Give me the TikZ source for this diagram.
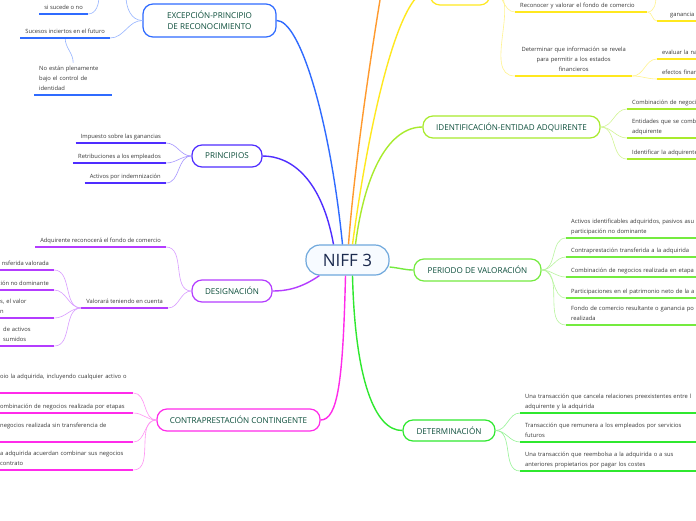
\documentclass[tikz,border=0pt]{standalone}
\usepackage{fontspec}
\setmainfont{Open Sans}
\definecolor{cexc}{HTML}{2F6BFF}
\definecolor{cprin}{HTML}{4F2DFF}
\definecolor{cdes}{HTML}{B43CFF}
\definecolor{ccon}{HTML}{FF2BEA}
\definecolor{cyel}{HTML}{FFE81F}
\definecolor{cora}{HTML}{FF9A2E}
\definecolor{cidn}{HTML}{A8EB2D}
\definecolor{cper}{HTML}{74EB3F}
\definecolor{cdet}{HTML}{2FE82F}
\definecolor{cniff}{HTML}{6FA8DC}
\definecolor{cnifffill}{HTML}{F7FBFF}
\definecolor{niftxt}{HTML}{1B2A4E}
\definecolor{toptxt}{HTML}{0B4D3A}
\definecolor{leaftxt}{HTML}{383838}
\tikzset{
  central/.style={draw=cniff, fill=cnifffill, line width=1.2pt, rounded corners=14pt,
    minimum width=83pt, minimum height=30pt, text=niftxt, font=\fontsize{17}{19}\selectfont},
  topic/.style={draw=#1, fill=white, line width=1.2pt, rounded corners=10pt, text=toptxt,
    font=\fontsize{8.1}{11}\selectfont, align=center, inner sep=1pt},
  leaf/.style={inner xsep=5pt, inner ysep=3.3pt, text=leaftxt,
    font=\fontsize{5.8}{9.6}\selectfont,
    execute at end node={\rule[-1.5pt]{0pt}{1pt}}},
  ul/.style={line width=1.8pt, draw=#1},
  lc/.style={line width=0.6pt, draw=#1!50},
  br/.style={line width=1.4pt, draw=#1},
}
\begin{document}
\begin{tikzpicture}[x=1pt,y=-1pt]
\useasboundingbox (0,0) rectangle (696,520);
\clip (0,0) rectangle (696,520);
\fill[white] (0,0) rectangle (696,520);

% central and topics
\node[central] (niff) at (347.5,260) {NIFF 3};
\node[topic=cexc, minimum width=133pt, minimum height=33pt] (exc) at (209.5,20.5) {EXCEPCIÓN-PRINCIPIO\\DE RECONOCIMIENTO};
\node[topic=cprin, minimum width=70pt, minimum height=22pt] (prin) at (227,156) {PRINCIPIOS};
\node[topic=cdes, minimum width=80pt, minimum height=22pt] (des) at (232,291) {DESIGNACIÓN};
\node[topic=ccon, minimum width=163pt, minimum height=22pt] (con) at (238.5,420) {CONTRAPRESTACIÓN CONTINGENTE};
\node[topic=cyel, minimum width=60pt, minimum height=30pt] (ytop) at (460,-10) {};
\node[topic=cidn, minimum width=177pt, minimum height=22pt] (idn) at (511.5,127) {IDENTIFICACIÓN-ENTIDAD ADQUIRENTE};
\node[topic=cper, minimum width=127pt, minimum height=22pt] (per) at (477.5,270) {PERIODO DE VALORACIÓN};
\node[topic=cdet, minimum width=92pt, minimum height=21pt] (det) at (449,430.5) {DETERMINACIÓN};
\coordinate (otop) at (381,-6);

% main branches
\draw[br=cexc] ([xshift=-5pt]niff.north) .. controls (330,120) and (300,20) .. (exc.east);
\draw[br=cprin] ([xshift=-14pt]niff.north) .. controls (322,180) and (292,156) .. (prin.east);
\draw[br=cora] ([xshift=1pt]niff.north) .. controls (354,170) and (370,60) .. (otop);
\draw[br=cyel] ([xshift=5pt]niff.north) .. controls (365,150) and (395,-10) .. (ytop.west);
\draw[br=cidn] ([xshift=8pt]niff.north) .. controls (365,170) and (390,127) .. (idn.west);
\draw[br=cper] ([yshift=-7pt]niff.east) .. controls (400,268) and (405,270) .. (per.west);
\draw[br=cdet] ([xshift=5pt]niff.south) .. controls (355,380) and (375,431) .. (det.west);
\draw[br=ccon] ([xshift=-2pt]niff.south) .. controls (343,380) and (338,420) .. (con.east);
\draw[br=cdes] ([xshift=14pt]niff.south west) .. controls (300,289) and (285,291) .. (des.east);

% EXCEPCION leaves
\node[leaf, anchor=south east] (sisu) at (88,14) {si sucede o no};
\node[leaf, anchor=south east] (suc) at (110,38) {Sucesos inciertos en el futuro};
\node[leaf, anchor=south west, text width=68pt, align=left] (nos) at (34,95) {No están plenamente\\bajo el control de\\identidad};
\coordinate (ta) at (126,-4);
\coordinate (tb) at (99,-4);
\draw[lc=cexc] (exc.west) to[out=180,in=-90] (ta);
\draw[lc=cexc] (sisu.south east) to[out=0,in=-90] (tb);
\draw[lc=cexc] (exc.west) to[out=180,in=0] (suc.south east);
\draw[lc=cexc] ([xshift=45pt]suc.south west) to[out=-90,in=90] (nos.north);

% PRINCIPIOS leaves
\node[leaf, anchor=south east] (imp) at (166,143) {Impuesto sobre las ganancias};
\node[leaf, anchor=south east] (ret) at (166,163) {Retribuciones a los empleados};
\node[leaf, anchor=south east] (act) at (166,183) {Activos por indemnización};
\foreach \n in {imp,ret,act} \draw[lc=cprin] (prin.west) to[out=180,in=0] (\n.south east);

% DESIGNACION leaves
\node[leaf, anchor=south east] (adq) at (166,247) {Adquirente reconocerá el fondo de comercio};
\node[leaf, anchor=south east] (val) at (168,308) {Valorará teniendo en cuenta};
\node[leaf, anchor=south east] (d1) at (54,270) {nsferida valorada};
\node[leaf, anchor=south east] (d2) at (54,290) {ción no dominante};
\node[leaf, anchor=south west, text width=49pt, align=left] (d3) at (-5,318) {s, el valor\\n};
\node[leaf, anchor=south west, text width=46pt, align=left] (d4) at (-2,346) {de activos\\sumidos};
\foreach \n in {adq,val} \draw[lc=cdes] (des.west) to[out=180,in=0] (\n.south east);
\foreach \n in {d1,d2,d3,d4} \draw[lc=cdes] (val.south west) to[out=180,in=0] (\n.south east);

% CONTRAPRESTACION leaves
\node[leaf, anchor=south west, text width=128pt, align=left] (c1) at (-5,393) {oio la adquirida, incluyendo cualquier activo o\\\mbox{}};
\node[leaf, anchor=south west, text width=128pt, align=left] (c2) at (-5,413) {ombinación de negocios realizada por etapas};
\node[leaf, anchor=south west, text width=128pt, align=left] (c3) at (-5,442) {negocios realizada sin transferencia de\\\mbox{}};
\node[leaf, anchor=south west, text width=128pt, align=left] (c4) at (-5,470) {a adquirida acuerdan combinar sus negocios\\contrato};
\foreach \n in {c1,c2,c3,c4} \draw[lc=ccon] (con.west) to[out=180,in=0] (\n.south east);

% yellow branch leaves
\node[leaf, anchor=south west, text width=122pt, align=left] (rec) at (515,12) {Reconocer y valorar el fondo de comercio};
\node[leaf, anchor=south west, text width=40pt, align=center] (gan) at (657,21) {ganancia};
\node[leaf, anchor=south west, text width=107pt, align=center] (detq) at (515,76) {Determinar que información se revela\\para permitir a los estados\\financieros};
\node[leaf, anchor=south west, text width=60pt, align=left] (ev) at (657,59) {evaluar la na};
\node[leaf, anchor=south west, text width=60pt, align=left] (ef) at (657,79) {efectos finan};
\coordinate (tc) at (656,-4);
\draw[lc=cyel] (ytop.east) to[out=0,in=180] (rec.south west);
\draw[lc=cyel] (ytop.east) to[out=0,in=180] (detq.south west);
\draw[lc=cyel] (rec.south east) to[out=0,in=-90] (tc);
\draw[lc=cyel] (rec.south east) to[out=0,in=180] (gan.south west);
\draw[lc=cyel] (detq.south east) to[out=0,in=180] (ev.south west);
\draw[lc=cyel] (detq.south east) to[out=0,in=180] (ef.south west);

% IDENTIFICACION leaves
\node[leaf, anchor=south west, text width=80pt, align=left] (i1) at (627,109) {Combinación de negoci};
\node[leaf, anchor=south west, text width=80pt, align=left] (i2) at (627,138) {Entidades que se combi\\adquirente};
\node[leaf, anchor=south west, text width=80pt, align=left] (i3) at (627,159) {Identificar la adquirente};
\foreach \n in {i1,i2,i3} \draw[lc=cidn] (idn.east) to[out=0,in=180] (\n.south west);

% PERIODO leaves
\node[leaf, anchor=south west, text width=200pt, align=left] (p1) at (566,238) {Activos identificables adquiridos, pasivos asu\\participación no dominante};
\node[leaf, anchor=south west, text width=200pt, align=left] (p2) at (566,257) {Contraprestación transferida a la adquirida};
\node[leaf, anchor=south west, text width=200pt, align=left] (p3) at (566,277) {Combinación de negocios realizada en etapa};
\node[leaf, anchor=south west, text width=200pt, align=left] (p4) at (566,298) {Participaciones en el patrimonio neto de la a};
\node[leaf, anchor=south west, text width=200pt, align=left] (p5) at (566,325) {Fondo de comercio resultante o ganancia po\\realizada};
\foreach \n in {p1,p2,p3,p4,p5} \draw[lc=cper] (per.east) to[out=0,in=180] (\n.south west);

% DETERMINACION leaves
\node[leaf, anchor=south west, text width=200pt, align=left] (u1) at (520,413) {Una transacción que cancela relaciones preexistentes entre l\\adquirente y la adquirida};
\node[leaf, anchor=south west, text width=200pt, align=left] (u2) at (520,442) {Transacción que remunera a los empleados por servicios\\futuros};
\node[leaf, anchor=south west, text width=200pt, align=left] (u3) at (520,471) {Una transacción que reembolsa a la adquirida o a sus\\anteriores propietarios por pagar los costes};
\foreach \n in {u1,u2,u3} \draw[lc=cdet] (det.east) to[out=0,in=180] (\n.south west);

% underlines
\foreach \n/\c in {sisu/cexc,suc/cexc,nos/cexc,imp/cprin,ret/cprin,act/cprin,adq/cdes,val/cdes,d1/cdes,d2/cdes,d3/cdes,d4/cdes,c1/ccon,c2/ccon,c3/ccon,c4/ccon,rec/cyel,gan/cyel,detq/cyel,ev/cyel,ef/cyel,i1/cidn,i2/cidn,i3/cidn,p1/cper,p2/cper,p3/cper,p4/cper,p5/cper,u1/cdet,u2/cdet,u3/cdet}
  \draw[ul=\c] (\n.south west) -- (\n.south east);
\end{tikzpicture}
\end{document}
